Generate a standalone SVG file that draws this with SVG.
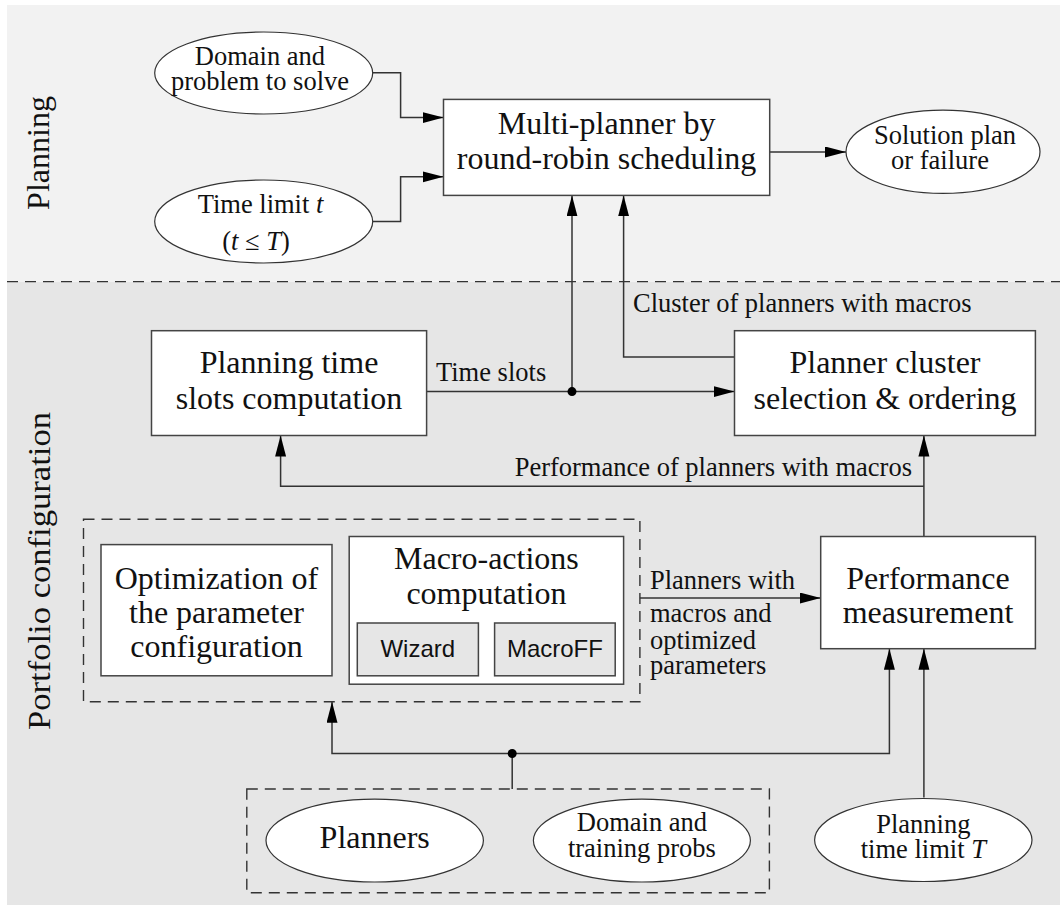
<svg xmlns="http://www.w3.org/2000/svg" width="1060" height="905" viewBox="0 0 1060 905">
<defs>
<marker id="arr" markerUnits="userSpaceOnUse" markerWidth="21" markerHeight="12" refX="21" refY="5.5" orient="auto">
<path d="M0,0 L21,5.5 L0,11 z" fill="#000"/>
</marker>
<style>
text{font-family:"Liberation Serif","Times New Roman",serif;fill:#111;}
.big{font-size:32px;text-anchor:middle;}
.lab{font-size:26.5px;}
.ell{font-size:26.5px;text-anchor:middle;}
.sans{font-family:"Liberation Sans",Arial,sans-serif;font-size:24px;text-anchor:middle;}
.box{fill:#fff;stroke:#444;stroke-width:1.5;}
.gbox{fill:#e6e6e6;stroke:#444;stroke-width:1.5;}
.el{fill:#fff;stroke:#333;stroke-width:1.2;}
.dash{fill:none;stroke:#333;stroke-width:1.4;stroke-dasharray:11 7;}
.con{fill:none;stroke:#333;stroke-width:1.5;}
.it{font-style:italic;}
</style>
</defs>
<rect x="0" y="0" width="1060" height="905" fill="#fff"/>
<rect x="7" y="5" width="1053" height="277" fill="#f2f2f2"/>
<rect x="7" y="282" width="1053" height="623" fill="#e6e6e6"/>
<line x1="7" y1="281.6" x2="1060" y2="281.6" class="dash" stroke="#555"/>

<text class="big" transform="translate(49,153) rotate(-90)">Planning</text>
<text class="big" transform="translate(50,571) rotate(-90)" textLength="318" lengthAdjust="spacingAndGlyphs">Portfolio configuration</text>

<g id="connectors">
<path class="con" d="M372.6,72.7 H400.6 V117.6 H443.5" marker-end="url(#arr)"/>
<path class="con" d="M372.6,221.4 H400.6 V176.8 H443.5" marker-end="url(#arr)"/>
<path class="con" d="M769.7,152 H846" marker-end="url(#arr)"/>
<path class="con" d="M426.6,391.6 H734.5" marker-end="url(#arr)"/>
<path class="con" d="M572,391.6 V195.4" marker-end="url(#arr)"/>
<path class="con" d="M734.5,357 H623.6 V195.4" marker-end="url(#arr)"/>
<path class="con" d="M923.9,536.5 V435.5" marker-end="url(#arr)"/>
<path class="con" d="M923.9,486.2 H280.6 V435.5" marker-end="url(#arr)"/>
<path class="con" d="M639.9,598 H820.7" marker-end="url(#arr)"/>
<path class="con" d="M512.2,789 V753.5 H889.4 V648.7" marker-end="url(#arr)"/>
<path class="con" d="M512.2,753.5 H332 V701.8" marker-end="url(#arr)"/>
<path class="con" d="M923.9,797.5 V648.7" marker-end="url(#arr)"/>
<circle cx="572" cy="391.6" r="4.5" fill="#000"/>
<circle cx="512.2" cy="753.5" r="4.5" fill="#000"/>
<text class="lab" x="436" y="381">Time slots</text>
<text class="lab" x="633" y="312">Cluster of planners with macros</text>
<text class="lab" x="912" y="476" text-anchor="end">Performance of planners with macros</text>
<text class="lab" x="650" y="588.6">Planners with</text>
<text class="lab" x="650" y="622.4">macros and</text>
<text class="lab" x="650" y="648.7">optimized</text>
<text class="lab" x="650" y="674.1">parameters</text>
</g>

<g id="domain-problem">
<ellipse class="el" cx="263.7" cy="73" rx="109" ry="41"/>
<text class="ell" x="260" y="65.2">Domain and</text>
<text class="ell" x="260" y="89.6">problem to solve</text>
</g>
<g id="time-limit-t">
<ellipse class="el" cx="263.7" cy="221.5" rx="109" ry="41.5"/>
<text class="ell" x="260.5" y="213">Time limit <tspan class="it">t</tspan></text>
<text class="ell" x="256" y="250">(<tspan class="it">t</tspan> ≤ <tspan class="it">T</tspan>)</text>
</g>
<g id="multi-planner">
<rect class="box" x="443.5" y="99.4" width="326.2" height="96"/>
<text class="big" x="606.6" y="134.2">Multi-planner by</text>
<text class="big" x="606.6" y="169">round-robin scheduling</text>
</g>
<g id="solution">
<ellipse class="el" cx="943" cy="151.8" rx="97" ry="41.6"/>
<text class="ell" x="945" y="143.7">Solution plan</text>
<text class="ell" x="940" y="169">or failure</text>
</g>
<g id="time-slots">
<rect class="box" x="151.5" y="330.7" width="275.1" height="104.8"/>
<text class="big" x="289" y="373">Planning time</text>
<text class="big" x="289" y="408.5">slots computation</text>
</g>
<g id="cluster">
<rect class="box" x="734.5" y="330.7" width="300.9" height="104.8"/>
<text class="big" x="885" y="373">Planner cluster</text>
<text class="big" x="885" y="408.5">selection &amp; ordering</text>
</g>
<g id="config-group">
<rect class="dash" x="83.5" y="519.3" width="556.4" height="182.5"/>
<g id="optimization">
<rect class="box" x="101" y="544.6" width="231" height="131.2"/>
<text class="big" x="216.5" y="588.6">Optimization of</text>
<text class="big" x="216.5" y="623.4">the parameter</text>
<text class="big" x="216.5" y="657.2">configuration</text>
</g>
<g id="macro-actions">
<rect class="box" x="349.2" y="536.5" width="274.4" height="147.7"/>
<text class="big" x="486.4" y="569.3">Macro-actions</text>
<text class="big" x="486.4" y="603.8">computation</text>
<g id="wizard">
<rect class="gbox" x="357.3" y="623" width="121.1" height="52.8"/>
<text class="sans" x="417.8" y="657">Wizard</text>
</g>
<g id="macroff">
<rect class="gbox" x="494.6" y="623" width="120.6" height="52.8"/>
<text class="sans" x="554.9" y="657">MacroFF</text>
</g>
</g>
</g>
<g id="performance">
<rect class="box" x="820.7" y="536.5" width="214.7" height="112.2"/>
<text class="big" x="928" y="588.6">Performance</text>
<text class="big" x="928" y="623.4">measurement</text>
</g>
<g id="inputs-group">
<rect class="dash" x="246.8" y="789" width="522.6" height="103.8"/>
<g id="planners">
<ellipse class="el" cx="374.7" cy="840.6" rx="108.7" ry="41.4"/>
<text class="big" x="374.7" y="848.2">Planners</text>
</g>
<g id="domain-training">
<ellipse class="el" cx="641.9" cy="840.6" rx="108.5" ry="41.4"/>
<text class="ell" x="641.9" y="831.3">Domain and</text>
<text class="ell" x="641.9" y="856.7">training probs</text>
</g>
</g>
<g id="time-limit-T">
<ellipse class="el" cx="923.3" cy="840" rx="108.7" ry="41.5"/>
<text class="ell" x="923.3" y="833">Planning</text>
<text class="ell" x="923.3" y="858.4">time limit <tspan class="it">T</tspan></text>
</g>
</svg>
